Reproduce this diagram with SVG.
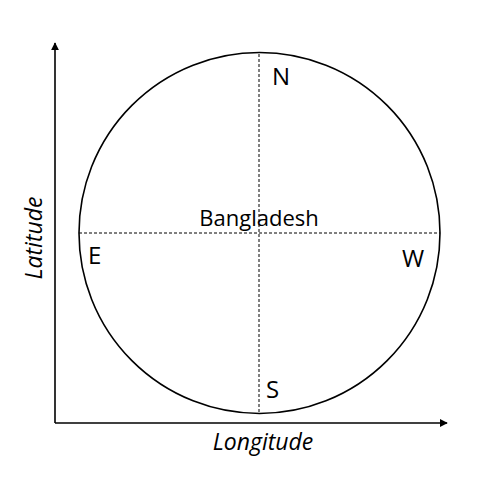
<svg xmlns="http://www.w3.org/2000/svg" width="489" height="477" viewBox="0 0 489 477">
<style>
text{font-family:"Open Sans","Liberation Sans",sans-serif;font-size:22px;fill:#000}
.big{font-size:24px}
.it{font-style:italic;font-size:23px}
.ax{stroke:#000;stroke-width:1.6;fill:none}
.dash{stroke:#000;stroke-width:1;stroke-dasharray:3,2;fill:none}
</style>
<defs>
<marker id="ah" viewBox="0 0 10 10" refX="9" refY="5" markerWidth="8" markerHeight="8" markerUnits="userSpaceOnUse" orient="auto"><path d="M0,0L10,5L0,10z" fill="#000"/></marker>
</defs>
<rect width="489" height="477" fill="#fff"/>
<g id="connectors">
<path class="ax" d="M55,423V43" marker-end="url(#ah)"/>
<path class="ax" d="M55,423H447" marker-end="url(#ah)"/>
<path class="dash" d="M259,54V412"/>
<path class="dash" d="M79,233H440"/>
</g>
<g id="globe">
<circle cx="259.5" cy="233" r="180.5" fill="none" stroke="#000" stroke-width="1.6"/>
</g>
<g id="labels">
<text class="big" x="272" y="85">N</text>
<text class="big" x="88" y="264">E</text>
<text class="big" x="402" y="267">W</text>
<text class="big" x="266" y="398">S</text>
<text x="259" y="226" text-anchor="middle">Bangladesh</text>
<text class="it" x="263" y="450" text-anchor="middle">Longitude</text>
<text class="it" transform="translate(42,238) rotate(-90)" text-anchor="middle">Latitude</text>
</g>
</svg>
